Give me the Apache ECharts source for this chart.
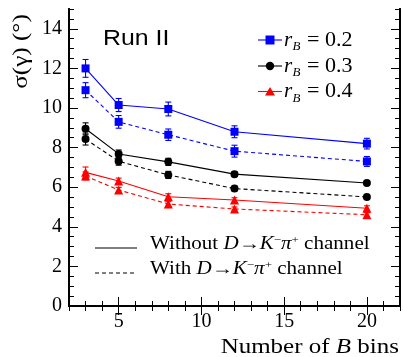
<!DOCTYPE html>
<html>
<head>
<meta charset="utf-8">
<script src="https://cdn.jsdelivr.net/npm/echarts@6/dist/echarts.min.js"></script>
<style>html,body{margin:0;padding:0;background:#fff}#c{width:403px;height:357px}</style>
</head>
<body>
<div id="c"></div>
<script>
var xBins = [3, 5, 8, 12, 20];
var xTicks = [5, 10, 15, 20];
var yTicks = [0, 2, 4, 6, 8, 10, 12, 14];

var rb02Without = [12.0, 10.15, 9.95, 8.8, 8.2];
var rb02WithoutErr = [0.45, 0.33, 0.35, 0.3, 0.27];
var rb02With = [10.9, 9.3, 8.65, 7.82, 7.3];
var rb02WithErr = [0.38, 0.32, 0.29, 0.3, 0.25];
var rb03Without = [8.95, 7.68, 7.28, 6.66, 6.21];
var rb03WithoutErr = [0.3, 0.2, 0.18, 0.12, 0.1];
var rb03With = [8.43, 7.31, 6.62, 5.93, 5.51];
var rb03WithErr = [0.3, 0.2, 0.18, 0.12, 0.1];
var rb04Without = [6.75, 6.31, 5.52, 5.35, 4.94];
var rb04WithoutErr = [0.27, 0.15, 0.15, 0.12, 0.12];
var rb04With = [6.57, 5.86, 5.15, 4.9, 4.61];
var rb04WithErr = [0.2, 0.13, 0.12, 0.1, 0.1];

var BLUE = '#0000ff', BLACK = '#000000', RED = '#ff0000';
var SERIF = 'Liberation Serif';
var SANS = 'Liberation Sans';

function pts(vals) { return xBins.map(function (x, i) { return [x, vals[i]]; }); }
function errPts(vals, errs) { return xBins.map(function (x, i) { return [x, vals[i], errs[i]]; }); }

function lineSeries(vals, color, symbol, size, dashed) {
  return {
    type: 'line', data: pts(vals), xAxisIndex: 0, yAxisIndex: 0,
    symbol: symbol, symbolSize: size, showSymbol: true,
    lineStyle: { color: color, width: 1.1, type: dashed ? [4, 3] : 'solid' },
    itemStyle: { color: color }, z: 3, animation: false
  };
}
function errSeries(vals, errs, color) {
  return {
    type: 'custom', data: errPts(vals, errs), xAxisIndex: 0, yAxisIndex: 0, z: 4, animation: false,
    renderItem: function (params, api) {
      var x = api.value(0), y = api.value(1), e = api.value(2);
      var top = api.coord([x, y + e]), bot = api.coord([x, y - e]);
      var st = { stroke: color, lineWidth: 1.1 };
      return { type: 'group', children: [
        { type: 'line', shape: { x1: top[0], y1: top[1], x2: bot[0], y2: bot[1] }, style: st },
        { type: 'line', shape: { x1: top[0] - 3, y1: top[1], x2: top[0] + 3, y2: top[1] }, style: st },
        { type: 'line', shape: { x1: bot[0] - 3, y1: bot[1], x2: bot[0] + 3, y2: bot[1] }, style: st }
      ]};
    }
  };
}

var tickRich = { a: { fontFamily: SERIF, fontSize: 20, color: '#000' } };
var axLine = { show: true, lineStyle: { color: '#000', width: 2 } };
function xAx(pos, major, labels) {
  var a = { type: 'value', position: pos, min: 2, max: 22, gridIndex: 0,
    axisLine: axLine, splitLine: { show: false },
    axisTick: { show: true, inside: true, length: major ? 9 : 5, lineStyle: { color: '#000', width: 1 } },
    axisLabel: { show: false } };
  if (major) { a.axisTick.customValues = xTicks; }
  else { a.interval = 1; }
  if (labels) { a.axisLabel = { show: true, customValues: xTicks, formatter: '{a|{value}}', rich: tickRich, margin: 6 }; }
  return a;
}
function yAx(pos, major, labels) {
  var a = { type: 'value', position: pos, min: 0, max: 15, gridIndex: 0,
    axisLine: axLine, splitLine: { show: false },
    axisTick: { show: true, inside: true, length: major ? 9 : 5, lineStyle: { color: '#000', width: 1 } },
    axisLabel: { show: false } };
  if (major) { a.axisTick.customValues = yTicks; }
  else { a.interval = 0.5; }
  if (labels) { a.axisLabel = { show: true, customValues: yTicks, formatter: '{a|{value}}', rich: tickRich, margin: 7 }; }
  return a;
}

var chart = echarts.init(document.getElementById('c'), null, { renderer: 'canvas' });

function txt(x, y, text, size, opts) {
  opts = opts || {};
  return { type: 'text', x: x, y: y, rotation: opts.rotation || 0, scaleX: opts.scaleX || 1,
    style: { text: '{a|' + text + '}', align: opts.align || 'left', verticalAlign: 'middle',
      rich: { a: { fontFamily: opts.family || SERIF, fontSize: size, fontStyle: opts.italic ? 'italic' : 'normal', color: '#000' } } } };
}

function legendMarker(y, color, symbolType) {
  var items = [{ type: 'line', shape: { x1: 258, y1: y, x2: 282, y2: y }, style: { stroke: color, lineWidth: 1.1 } }];
  if (symbolType === 'rect') items.push({ type: 'rect', shape: { x: 265.5, y: y - 4.5, width: 9, height: 9 }, style: { fill: color } });
  if (symbolType === 'circle') items.push({ type: 'circle', shape: { cx: 270, cy: y, r: 4.2 }, style: { fill: color } });
  if (symbolType === 'triangle') items.push({ type: 'polygon', shape: { points: [[270, y - 4.5], [265, y + 4], [275, y + 4]] }, style: { fill: color } });
  items.push(txt(284, y, 'r', 21, { italic: true }));
  items.push(txt(292.5, y + 7, 'B', 13, { italic: true }));
  return items;
}

var rbLabels = ['= 0.2', '= 0.3', '= 0.4'];
var rbRows = [40, 66, 91.5];
var graphics = [];
graphics = graphics.concat(legendMarker(rbRows[0], BLUE, 'rect'), legendMarker(rbRows[1], BLACK, 'circle'), legendMarker(rbRows[2], RED, 'triangle'));
rbRows.forEach(function (y, i) { graphics.push(txt(307, y, rbLabels[i], 21, { scaleX: 1.05 })); });
graphics.push(txt(103, 38.5, 'Run II', 22, { family: SANS, scaleX: 1.13 }));
graphics.push({ type: 'line', shape: { x1: 95, y1: 248, x2: 137, y2: 248 }, style: { stroke: '#000', lineWidth: 1.1 } });
graphics.push({ type: 'line', shape: { x1: 95, y1: 273, x2: 137, y2: 273 }, style: { stroke: '#000', lineWidth: 1.1, lineDash: [4, 3] } });
var richLeg = {
  n: { fontFamily: SERIF, fontSize: 18, color: '#000' },
  i: { fontFamily: SERIF, fontSize: 18, fontStyle: 'italic', color: '#000' },
  s: { fontFamily: SERIF, fontSize: 11, color: '#000', verticalAlign: 'top', padding: [0, 0, 8, 0] }
};
graphics.push({ type: 'text', x: 150, y: 244, scaleX: 1.17, style: { text: '{n|Without }{i|D}{n|→}{i|K}{s|−}{i|π}{s|+}{n| channel}', rich: richLeg, verticalAlign: 'middle' } });
graphics.push({ type: 'text', x: 150, y: 269.5, scaleX: 1.17, style: { text: '{n|With }{i|D}{n|→}{i|K}{s|−}{i|π}{s|+}{n| channel}', rich: richLeg, verticalAlign: 'middle' } });
graphics.push({ type: 'text', x: 399, y: 347, scaleX: 1.19, style: { text: '{n|Number of }{i|B}{n| bins}', align: 'right', verticalAlign: 'middle',
  rich: { n: { fontFamily: SERIF, fontSize: 21, color: '#000' }, i: { fontFamily: SERIF, fontSize: 21, fontStyle: 'italic', color: '#000' } } } });
graphics.push(txt(21, 51.5, 'σ(γ) (°)', 21, { rotation: Math.PI / 2, scaleX: 1.2, align: 'center' }));

chart.setOption({
  animation: false,
  backgroundColor: '#fff',
  grid: { left: 69, right: 3, top: 9, bottom: 51, containLabel: false },
  xAxis: [xAx('bottom', true, true), xAx('bottom', false, false), xAx('top', true, false), xAx('top', false, false)],
  yAxis: [yAx('left', true, true), yAx('left', false, false), yAx('right', true, false), yAx('right', false, false)],
  series: [
    lineSeries(rb02Without, BLUE, 'rect', 8, false),
    lineSeries(rb02With, BLUE, 'rect', 8, true),
    lineSeries(rb03Without, BLACK, 'circle', 8, false),
    lineSeries(rb03With, BLACK, 'circle', 8, true),
    lineSeries(rb04Without, RED, 'triangle', 9, false),
    lineSeries(rb04With, RED, 'triangle', 9, true),
    errSeries(rb02Without, rb02WithoutErr, BLUE),
    errSeries(rb02With, rb02WithErr, BLUE),
    errSeries(rb03Without, rb03WithoutErr, BLACK),
    errSeries(rb03With, rb03WithErr, BLACK),
    errSeries(rb04Without, rb04WithoutErr, RED),
    errSeries(rb04With, rb04WithErr, RED)
  ],
  graphic: graphics
});
</script>
</body>
</html>
